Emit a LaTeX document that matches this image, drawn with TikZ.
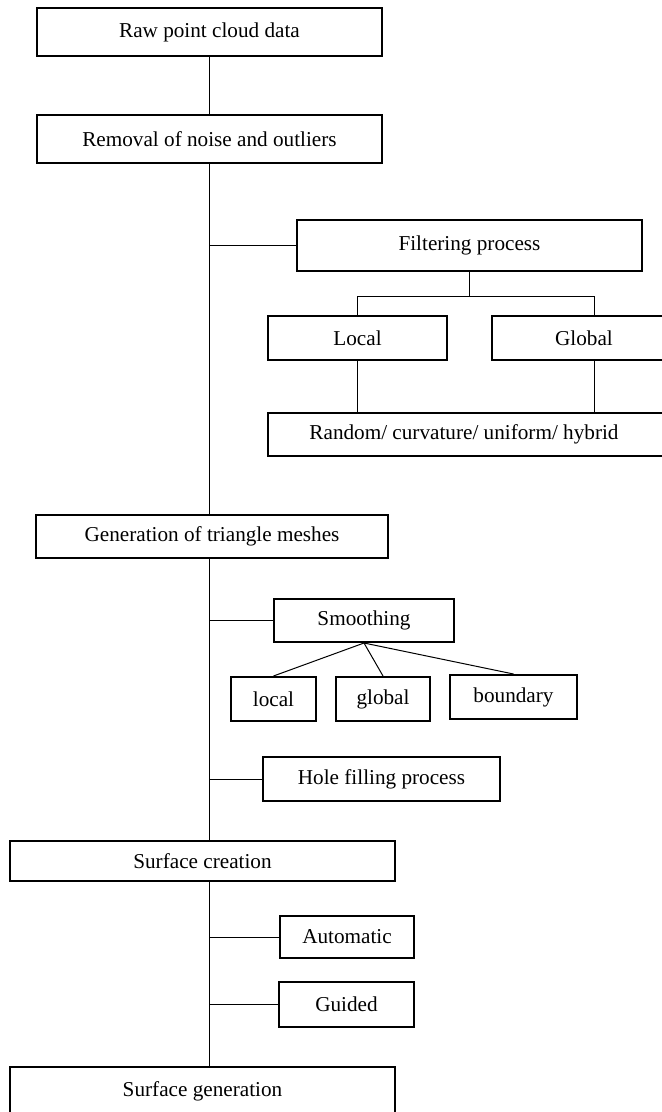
\documentclass[tikz,border=0pt]{standalone}
\usepackage{fontspec}
\setmainfont{Liberation Serif}
\begin{document}
\begin{tikzpicture}[x=0.5pt,y=-0.5pt,
  box/.style={draw=black,line width=1pt,rectangle,inner sep=0pt,font=\fontsize{10.6}{12}\selectfont},
  conn/.style={draw=black,line width=0.5pt}]
\useasboundingbox (0,0) rectangle (661,1112);
% main column
\node[box,minimum width=172.5pt,minimum height=24pt] (raw) at (209.5,32) {Raw point cloud data};
\node[box,minimum width=172.5pt,minimum height=24pt] (rem) at (209.5,139) {Removal of noise and outliers};
\node[box,minimum width=176pt,minimum height=21.5pt] (gen) at (212,536.5) {Generation of triangle meshes};
\node[box,minimum width=192.5pt,minimum height=20pt] (sc) at (202.5,861) {Surface creation};
\node[box,minimum width=192.5pt,minimum height=25pt] (sg) at (202.5,1092) {\raisebox{2.5pt}{Surface generation}};
% filtering branch
\node[box,minimum width=172.5pt,minimum height=25.5pt] (filt) at (469.5,245.5) {Filtering process};
\node[box,minimum width=89.5pt,minimum height=22pt] (loc) at (357.5,338) {Local};
\node[box,minimum width=92pt,minimum height=22pt] (glo) at (584,338) {Global};
\node[box,minimum width=204pt,minimum height=21.5pt] (rnd) at (472,434.5) {\hspace*{-8pt}Random/ curvature/ uniform/ hybrid};
% smoothing branch
\node[box,minimum width=90pt,minimum height=21.5pt] (smo) at (364,620.5) {Smoothing};
\node[box,minimum width=42.5pt,minimum height=22pt] (sloc) at (273.5,699) {local};
\node[box,minimum width=47pt,minimum height=22pt] (sglo) at (383,699) {global};
\node[box,minimum width=63.5pt,minimum height=22pt] (sbnd) at (513.5,697) {boundary};
\node[box,minimum width=118.5pt,minimum height=22pt] (hole) at (381.5,779) {Hole filling process};
% surface creation branch
\node[box,minimum width=67pt,minimum height=21pt] (auto) at (347,937) {Automatic};
\node[box,minimum width=67.5pt,minimum height=22.5pt] (guid) at (346.5,1004.5) {Guided};
% trunk coordinates
\coordinate (t1) at (209,163);
\coordinate (t2) at (209,515);
\coordinate (t3) at (209,558);
\coordinate (t4) at (209,841);
\coordinate (t5) at (209,881);
\coordinate (t6) at (209,1067);
\coordinate (fj) at (469.5,297);
\coordinate (gl) at (594,297);
\coordinate (glb) at (594,360);
\coordinate (glr) at (594,413);
% trunk
\draw[conn] (209,56) -- (209,115);
\draw[conn] (t1) -- (t2);
\draw[conn] (t3) -- (t4);
\draw[conn] (t5) -- (t6);
% branches from trunk
\draw[conn] (filt.west) -- (filt.west -| t1);
\draw[conn] (smo.west) -- (smo.west -| t1);
\draw[conn] (hole.west) -- (hole.west -| t1);
\draw[conn] (auto.west) -- (auto.west -| t1);
\draw[conn] (guid.west) -- (guid.west -| t1);
% filtering tree
\draw[conn] (filt.south) -- (fj);
\draw[conn] (loc.north) -- (loc.north |- fj) -- (gl) -- (glo.north -| gl);
\draw[conn] (loc.south) -- (rnd.north -| loc.south);
\draw[conn] (glb) -- (glr);
% smoothing tree
\draw[conn] (smo.south) -- (sloc.north);
\draw[conn] (smo.south) -- (sglo.north);
\draw[conn] (smo.south) -- (sbnd.north);
\end{tikzpicture}
\end{document}
